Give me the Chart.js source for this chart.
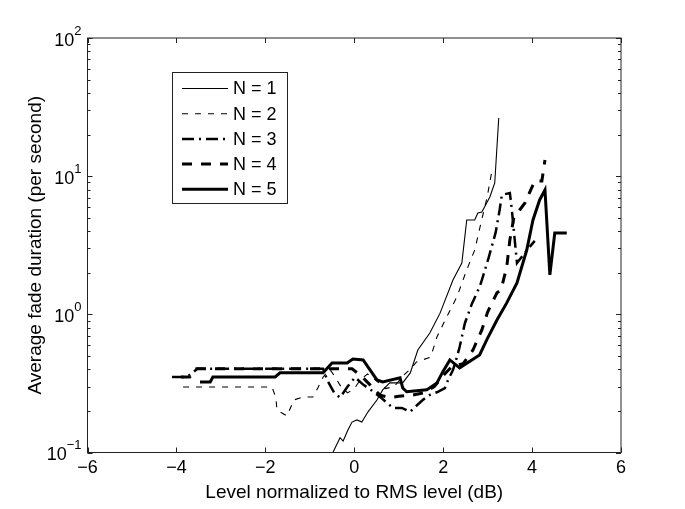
<!DOCTYPE html>
<html>
<head>
<meta charset="utf-8">
<script src="https://cdn.jsdelivr.net/npm/chart.js@4.4.1/dist/chart.umd.min.js"></script>
<style>
  html, body { margin: 0; padding: 0; background: #fff; }
</style>
</head>
<body>
<canvas id="fadeChart" width="685" height="509"></canvas>
<script>
const FONT = "'Liberation Sans', Arial, Helvetica, sans-serif";

// tick labels
const xTicks = [-6, -4, -2, 0, 2, 4, 6];
const yDecades = [-1, 0, 1, 2];
const seriesNames = ["N = 1", "N = 2", "N = 3", "N = 4", "N = 5"];

// N = 1
const n1X = [-0.77, -0.48, -0.32, -0.25, -0.14, -0.05, 0.06, 0.17, 0.31, 0.51, 0.64, 0.80, 1.09, 1.26, 1.43, 1.70, 1.93, 2.22, 2.42, 2.53, 2.71, 2.78, 2.87, 3.05, 3.16, 3.25];
const n1Y = [0.1, 0.1, 0.128, 0.121, 0.146, 0.166, 0.172, 0.166, 0.197, 0.240, 0.284, 0.319, 0.319, 0.377, 0.552, 0.733, 1.02, 1.77, 2.35, 4.82, 4.82, 5.42, 5.51, 7.07, 8.93, 26.4];

// N = 2
const n2X = [-3.85, -1.85, -1.76, -1.74, -1.51, -1.36, -1.15, -0.93, -0.82, -0.70, -0.55, -0.45, -0.30, -0.15, 0.00, 0.15, 0.30, 0.50, 0.70, 0.90, 1.10, 1.26, 1.40, 1.72, 1.86, 2.08, 2.31, 2.53, 2.71, 2.84, 2.99, 3.10];
const n2Y = [0.298, 0.298, 0.248, 0.203, 0.184, 0.240, 0.252, 0.252, 0.293, 0.352, 0.40, 0.36, 0.30, 0.27, 0.29, 0.34, 0.37, 0.33, 0.29, 0.30, 0.36, 0.40, 0.452, 0.491, 0.686, 0.957, 1.34, 2.10, 2.92, 4.44, 7.07, 11.1];

// N = 3
const n3X = [-4.10, -3.76, -3.53, -0.70, -0.60, -0.45, -0.32, -0.15, 0.02, 0.20, 0.40, 0.60, 0.87, 1.07, 1.26, 1.37, 1.54, 1.70, 1.88, 2.04, 2.11, 2.22, 2.31, 2.37, 2.44, 2.49, 2.65, 2.82, 2.87, 3.02, 3.18, 3.27, 3.32, 3.50, 3.54, 3.66, 3.88, 4.06];
const n3Y = [0.352, 0.352, 0.403, 0.403, 0.33, 0.27, 0.25, 0.30, 0.35, 0.31, 0.28, 0.25, 0.21, 0.21, 0.197, 0.214, 0.24, 0.261, 0.275, 0.293, 0.335, 0.395, 0.491, 0.58, 0.733, 0.866, 1.2, 1.58, 1.77, 2.55, 3.9, 5.69, 7.31, 7.56, 5.89, 2.35, 2.9, 3.4];

// N = 4
const n4X = [-3.90, -3.70, -3.55, -0.05, 0.15, 0.35, 0.58, 0.80, 1.00, 1.30, 1.55, 1.80, 2.00, 2.20, 2.45, 2.67, 2.87, 3.00, 3.21, 3.30, 3.43, 3.50, 3.59, 3.72, 3.84, 3.95, 4.06, 4.22, 4.29];
const n4Y = [0.352, 0.352, 0.403, 0.403, 0.36, 0.31, 0.26, 0.25, 0.255, 0.26, 0.27, 0.30, 0.36, 0.42, 0.44, 0.552, 0.771, 1.04, 1.43, 1.5, 2.2, 3.45, 5.0, 5.69, 6.40, 7.69, 9.23, 9.23, 13.1];

// N = 5
const n5X = [-3.47, -3.24, -3.18, -1.78, -1.67, -0.70, -0.50, -0.16, -0.03, 0.20, 0.51, 0.64, 1.03, 1.09, 1.18, 1.63, 1.86, 1.99, 2.15, 2.37, 2.82, 2.98, 3.21, 3.43, 3.66, 3.88, 4.02, 4.17, 4.29, 4.40, 4.51, 4.78];
const n5Y = [0.324, 0.324, 0.352, 0.352, 0.377, 0.377, 0.445, 0.445, 0.475, 0.468, 0.335, 0.324, 0.347, 0.293, 0.275, 0.284, 0.319, 0.383, 0.468, 0.410, 0.508, 0.653, 0.910, 1.21, 1.69, 2.92, 4.82, 6.73, 7.94, 1.93, 3.88, 3.88];

const xs = [n1X, n2X, n3X, n4X, n5X];
const ys = [n1Y, n2Y, n3Y, n4Y, n5Y];
const widths = [1.1, 1.1, 2.5, 3, 3];
const dashes = [[], [6, 7], [12, 5, 2, 5], [10, 9], []];

const datasets = seriesNames.map((name, i) => ({
  label: name,
  data: xs[i].map((x, j) => ({ x: x, y: ys[i][j] })),
  borderColor: '#000',
  borderWidth: widths[i],
  borderDash: dashes[i],
  pointRadius: 0,
  tension: 0,
  fill: false
}));

// box, inward ticks, y labels with exponents and the legend
const framePlugin = {
  id: 'frame',
  afterDatasetsDraw(chart) {
    const ctx = chart.ctx;
    const { left, right, top, bottom } = chart.chartArea;
    const sx = chart.scales.x, sy = chart.scales.y;
    ctx.save();
    ctx.strokeStyle = '#222';
    ctx.lineWidth = 1;
    ctx.strokeRect(left, top, right - left, bottom - top);

    ctx.beginPath();
    xTicks.forEach(v => {
      const px = Math.round(sx.getPixelForValue(v)) + 0.5;
      ctx.moveTo(px, bottom); ctx.lineTo(px, bottom - 5);
      ctx.moveTo(px, top); ctx.lineTo(px, top + 5);
    });
    yDecades.forEach(e => {
      for (let d = 1; d <= 9; d++) {
        const v = d * Math.pow(10, e);
        if (v > 100.0001) break;
        const py = Math.round(sy.getPixelForValue(v)) + 0.5;
        const len = d === 1 ? 5 : 3;
        ctx.moveTo(left, py); ctx.lineTo(left + len, py);
        ctx.moveTo(right, py); ctx.lineTo(right - len, py);
      }
    });
    ctx.stroke();

    // y tick labels: 10 with a raised exponent
    ctx.fillStyle = '#000';
    ctx.textBaseline = 'middle';
    yDecades.forEach(e => {
      const py = sy.getPixelForValue(Math.pow(10, e));
      const expText = e < 0 ? '\u2212' + (-e) : String(e);
      ctx.font = '13px ' + FONT;
      const ew = ctx.measureText(expText).width;
      ctx.textAlign = 'left';
      const baseX = left - 6 - ew;
      ctx.fillText(expText, baseX, py - 7);
      ctx.font = '18px ' + FONT;
      ctx.textAlign = 'right';
      ctx.fillText('10', baseX, py + 3);
    });

    // legend
    const lx = 172, ly = 72, lw = 115, lh = 131;
    ctx.fillStyle = '#fff';
    ctx.fillRect(lx, ly, lw, lh);
    ctx.strokeStyle = '#222';
    ctx.lineWidth = 1;
    ctx.strokeRect(lx + 0.5, ly + 0.5, lw, lh);
    chart.data.datasets.forEach((ds, i) => {
      const ry = 88.5 + i * 25.2;
      ctx.beginPath();
      ctx.strokeStyle = '#000';
      ctx.lineWidth = ds.borderWidth;
      ctx.setLineDash(ds.borderDash);
      ctx.moveTo(182, ry); ctx.lineTo(228, ry);
      ctx.stroke();
      ctx.setLineDash([]);
      ctx.fillStyle = '#000';
      ctx.font = '18px ' + FONT;
      ctx.textAlign = 'left';
      ctx.fillText(ds.label, 233, ry + 1);
    });
    ctx.restore();
  }
};

new Chart(document.getElementById('fadeChart'), {
  type: 'line',
  data: { datasets: datasets },
  options: {
    responsive: false,
    animation: false,
    layout: { padding: { left: 0, right: 64, top: 38, bottom: 0 } },
    plugins: { legend: { display: false }, tooltip: { enabled: false } },
    scales: {
      x: {
        type: 'linear',
        min: -6,
        max: 6,
        afterBuildTicks: s => { s.ticks = xTicks.map(v => ({ value: v })); },
        afterFit: s => { s.height = 56.5; },
        ticks: {
          callback: v => String(v).replace('-', '\u2212'),
          font: { family: FONT, size: 18 },
          color: '#000',
          padding: 5,
          maxRotation: 0
        },
        grid: { display: false, drawTicks: false },
        border: { display: false },
        title: {
          display: true,
          text: 'Level normalized to RMS level (dB)',
          font: { family: FONT, size: 19 },
          color: '#000',
          padding: { top: 0, bottom: 5 }
        }
      },
      y: {
        type: 'logarithmic',
        min: 0.1,
        max: 100,
        afterFit: s => { s.width = 87.5; },
        ticks: { display: false },
        grid: { display: false, drawTicks: false },
        border: { display: false },
        title: {
          display: true,
          text: 'Average fade duration (per second)',
          font: { family: FONT, size: 19 },
          color: '#000',
          padding: { top: 24, bottom: 0 }
        }
      }
    }
  },
  plugins: [framePlugin]
});
</script>
</body>
</html>
